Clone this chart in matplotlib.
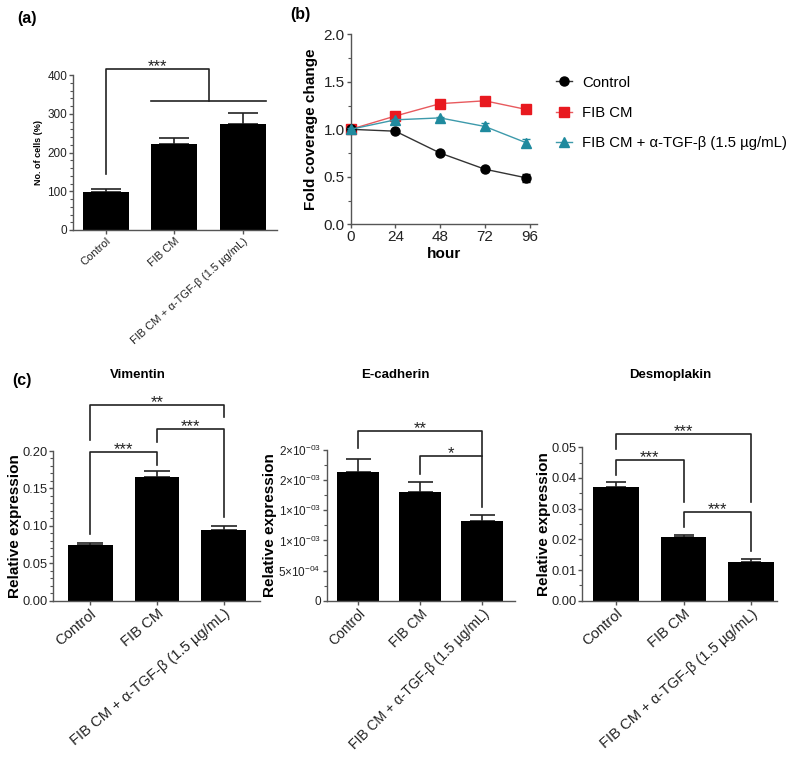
import numpy as np
import matplotlib
matplotlib.use("Agg")
import matplotlib.pyplot as plt
from matplotlib.ticker import MultipleLocator, FixedLocator, FormatStrFormatter

plt.rcParams["font.family"] = ["Liberation Sans", "DejaVu Sans"]
plt.rcParams["mathtext.fontset"] = "custom"
plt.rcParams["mathtext.rm"] = "Liberation Sans"
plt.rcParams["mathtext.it"] = "Liberation Sans:italic"
plt.rcParams["mathtext.bf"] = "Liberation Sans:bold"

AXIS_COL = "#555555"
INK = "#222222"

# ---- data ----
groups = ["Control", "FIB CM", "FIB CM + α-TGF-β (1.5 µg/mL)"]

# (a) cell number
cells_mean = [99, 222, 274]
cells_err = [8, 16, 27]

# (b) coverage over time
hours = [0, 24, 48, 72, 94]
cov_control = [1.00, 0.98, 0.75, 0.58, 0.49]
cov_control_err = [0.01, 0.01, 0.01, 0.01, 0.04]
cov_fib = [1.00, 1.14, 1.27, 1.30, 1.21]
cov_fib_err = [0.01, 0.01, 0.01, 0.01, 0.04]
cov_tgf = [1.00, 1.10, 1.12, 1.03, 0.86]
cov_tgf_err = [0.01, 0.01, 0.01, 0.04, 0.04]
series_labels = ["Control", "FIB CM", "FIB CM + α-TGF-β (1.5 µg/mL)"]

# (c) relative expression
vim_mean = [0.0744, 0.1657, 0.0945]
vim_err = [0.0023, 0.0072, 0.0053]
ecad_mean = [2.14e-3, 1.80e-3, 1.33e-3]
ecad_err = [0.21e-3, 0.17e-3, 0.09e-3]
desmo_mean = [0.0370, 0.0207, 0.0127]
desmo_err = [0.0018, 0.0008, 0.0008]

ecad_ticks = [0, 5e-4, 1e-3, 1.5e-3, 2e-3, 2.5e-3]
ecad_ticklabels = ["0", r"$5{\times}10^{-04}$", r"$1{\times}10^{-03}$",
                   r"$1{\times}10^{-03}$", r"$2{\times}10^{-03}$", r"$2{\times}10^{-03}$"]

# significance brackets: (i, j, top, left leg bottom, right leg bottom, label)
vim_sig = [(0, 2, 0.262, 0.215, 0.245, "**"),
           (1, 2, 0.230, 0.212, 0.112, "***"),
           (0, 1, 0.198, 0.089, 0.181, "***")]
ecad_sig = [(0, 2, 2.815e-3, 2.53e-3, 2.40e-3, "**"),
            (1, 2, 2.405e-3, 2.11e-3, 1.56e-3, "*")]
desmo_sig = [(0, 2, 0.0543, 0.0493, 0.0323, "***"),
             (0, 1, 0.0459, 0.0410, 0.0323, "***"),
             (1, 2, 0.0290, 0.0241, 0.0163, "***")]

W, H = 800, 762
fig = plt.figure(figsize=(8, 7.62), dpi=100)


def px_axes(left, right, bottom, top):
    return fig.add_axes([left / W, 1 - bottom / H, (right - left) / W, (bottom - top) / H])


def style(ax, fs):
    for s in ["top", "right"]:
        ax.spines[s].set_visible(False)
    for s in ["left", "bottom"]:
        ax.spines[s].set_color(AXIS_COL)
        ax.spines[s].set_linewidth(1.0)
    ax.tick_params(colors=AXIS_COL, labelcolor=INK, labelsize=fs, length=3, width=1.0, pad=1.2)
    ax.tick_params(which="minor", colors=AXIS_COL, length=2, width=0.8)


def bars(ax, means, errs, capsize, fs, rot):
    x = np.arange(len(means))
    ax.bar(x, means, width=0.67, color="black", zorder=2)
    ax.errorbar(x, means, yerr=[np.zeros(len(errs)), errs], fmt="none", ecolor=INK,
                elinewidth=1.2, capsize=capsize, capthick=1.2, zorder=1)
    ax.set_xticks(x)
    ax.set_xticklabels(groups, rotation=rot, ha="right", rotation_mode="anchor", fontsize=fs)


def stars(ax, x, y, lab, fs=12):
    ax.annotate(lab, (x, y), xytext=(0, -1.5), textcoords="offset points",
                ha="center", va="baseline", fontsize=fs, color=INK, annotation_clip=False)


def brackets(ax, sig):
    for i, j, top, lb, rb, lab in sig:
        ax.plot([i, i, j, j], [lb, top, top, rb], color=INK, lw=1.2, clip_on=False)
        stars(ax, (i + j) / 2, top, lab)


# ---- (a) ----
ax = px_axes(73, 277, 230, 75)
style(ax, 8.5)
bars(ax, cells_mean, cells_err, 11, 8, 42)
ax.set_xlim(-0.48, 2.5)
ax.set_ylim(0, 400)
ax.yaxis.set_major_locator(MultipleLocator(100))
ax.yaxis.set_minor_locator(MultipleLocator(20))
ax.set_ylabel("No. of cells (%)", fontsize=6.5, fontweight="bold")
ax.yaxis.set_label_coords(-0.147, 0.5)
ax.plot([0, 0, 1.5, 1.5], [144, 415, 415, 333], color=INK, lw=1.2, clip_on=False)
ax.plot([1 - 0.335, 2 + 0.335], [333, 333], color=INK, lw=1.2, clip_on=False)
stars(ax, 0.75, 415, "***")

# ---- (b) ----
ax = px_axes(350.7, 537, 224.3, 34.3)
style(ax, 11)
colors = ["black", "#e8191f", "#1f8a9e"]
markers = ["o", "s", "^"]
msizes = [6.5, 6.5, 7]
line_cols = ["#333333", "#e85a5e", "#3d9aab"]
for k, (m, e) in enumerate([(cov_control, cov_control_err), (cov_fib, cov_fib_err),
                            (cov_tgf, cov_tgf_err)]):
    z = [3, 2, 4][k]
    ax.errorbar(hours, m, yerr=e, fmt="none", ecolor=colors[k], elinewidth=1.0,
                capsize=3, capthick=1.0, clip_on=False, zorder=z)
    ax.plot(hours, m, color=line_cols[k], lw=1.0, marker=markers[k], ms=msizes[k],
            mfc=colors[k], mec=colors[k], label=series_labels[k], clip_on=False, zorder=z)
ax.set_xlim(0, 100)
ax.set_ylim(0, 2.0)
ax.set_xticks([0, 24, 48, 72, 96])
ax.yaxis.set_major_locator(MultipleLocator(0.5))
ax.yaxis.set_minor_locator(MultipleLocator(0.25))
ax.yaxis.set_major_formatter(FormatStrFormatter("%.1f"))
ax.set_xlabel("hour", fontsize=11, fontweight="bold", labelpad=2)
ax.set_ylabel("Fold coverage change", fontsize=11, fontweight="bold")
ax.yaxis.set_label_coords(-0.175, 0.5)
ax.legend(loc="center left", bbox_to_anchor=(556 / W, 1 - 113 / H),
          bbox_transform=fig.transFigure, frameon=False, fontsize=10.7,
          borderaxespad=0, borderpad=0, handlelength=1.1, handletextpad=0.67,
          labelspacing=1.1)

# ---- (c) Vimentin ----
ax = px_axes(53.3, 260, 600.7, 451)
style(ax, 9.3)
bars(ax, vim_mean, vim_err, 9.5, 10.6, 40)
ax.set_xlim(-0.55, 2.54)
ax.set_ylim(0, 0.20)
ax.yaxis.set_major_locator(MultipleLocator(0.05))
ax.yaxis.set_minor_locator(MultipleLocator(0.01))
ax.yaxis.set_major_formatter(FormatStrFormatter("%.2f"))
ax.set_ylabel("Relative expression", fontsize=11, fontweight="bold")
ax.yaxis.set_label_coords(-0.152, 0.5)
brackets(ax, vim_sig)

# ---- (c) E-cadherin ----
ax = px_axes(326.7, 515, 600.7, 450)
style(ax, 8.5)
bars(ax, ecad_mean, ecad_err, 9, 10, 45)
ax.set_xlim(-0.505, 2.53)
ax.set_ylim(0, 2.5e-3)
ax.yaxis.set_major_locator(FixedLocator(ecad_ticks))
ax.set_yticklabels(ecad_ticklabels)
ax.yaxis.set_minor_locator(MultipleLocator(2.5e-4))
ax.set_ylabel("Relative expression", fontsize=11, fontweight="bold")
ax.yaxis.set_label_coords(-0.262, 0.5)
brackets(ax, ecad_sig)

# ---- (c) Desmoplakin ----
ax = px_axes(582.3, 777, 600.7, 447.3)
style(ax, 9.3)
bars(ax, desmo_mean, desmo_err, 7.5, 10.6, 41)
ax.set_xlim(-0.5, 2.385)
ax.set_ylim(0, 0.05)
ax.yaxis.set_major_locator(MultipleLocator(0.01))
ax.yaxis.set_minor_locator(MultipleLocator(0.005))
ax.yaxis.set_major_formatter(FormatStrFormatter("%.2f"))
ax.set_ylabel("Relative expression", fontsize=11, fontweight="bold")
ax.yaxis.set_label_coords(-0.16, 0.5)
brackets(ax, desmo_sig)

# panel letters and titles
fig.text(27 / W, 1 - 18 / H, "(a)", fontsize=11.5, fontweight="bold", ha="center", va="center")
fig.text(300 / W, 1 - 15 / H, "(b)", fontsize=11.5, fontweight="bold", ha="center", va="center")
fig.text(22 / W, 1 - 381 / H, "(c)", fontsize=11.5, fontweight="bold", ha="center", va="center")
fig.text(138 / W, 1 - 375 / H, "Vimentin", fontsize=9.5, fontweight="bold", ha="center", va="center")
fig.text(395 / W, 1 - 375 / H, "E-cadherin", fontsize=9.5, fontweight="bold", ha="center", va="center")
fig.text(670 / W, 1 - 375 / H, "Desmoplakin", fontsize=9.5, fontweight="bold", ha="center", va="center")

fig.savefig("out.png", dpi=100)
